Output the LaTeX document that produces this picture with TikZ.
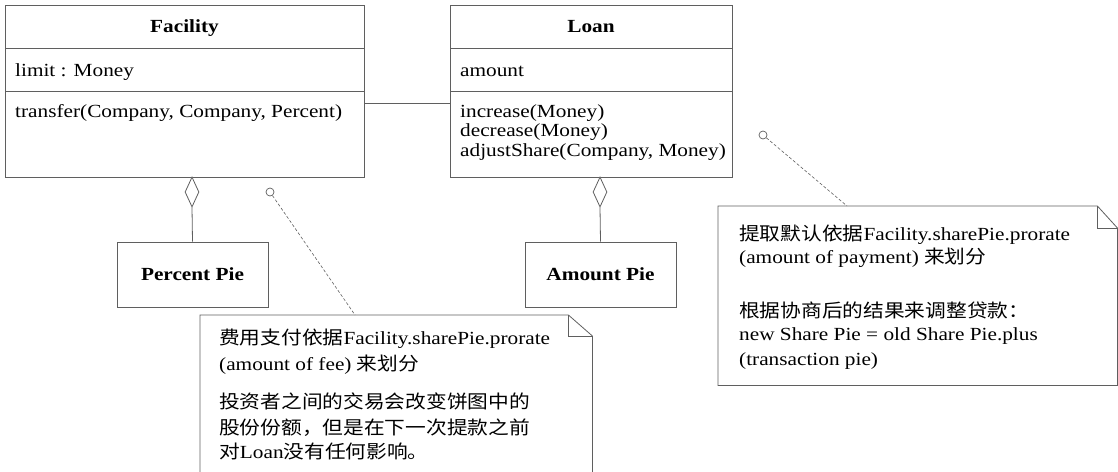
\documentclass[tikz,border=0pt]{standalone}
\usepackage{fontspec}
\setmainfont{Liberation Serif}[FakeStretch=1.15]
\newfontfamily\cjk{Noto Sans CJK SC}[FakeStretch=1.12]
\usetikzlibrary{shapes.geometric}
\definecolor{linec}{RGB}{95,95,95}
\begin{document}
\begin{tikzpicture}[x=1pt,y=-1pt,
  lc/.style={draw=linec, line width=0.8pt},
  box/.style={draw=linec, line width=0.8pt, inner sep=0pt, anchor=north west},
  notebox/.style={draw=none, inner sep=0pt, anchor=north west},
  txt/.style={anchor=base west, inner sep=0pt, font=\fontsize{18.5}{17}\selectfont},
  ttl/.style={anchor=base, inner sep=0pt, font=\fontsize{18.5}{17}\selectfont\bfseries},
  pie/.style={draw=linec, line width=0.8pt, inner sep=0pt, minimum width=151pt, minimum height=65pt, font=\fontsize{18.5}{17}\selectfont\bfseries},
  agg/.style={diamond, draw=linec, line width=0.8pt, fill=white, minimum width=14pt, minimum height=30pt, inner sep=0pt},
  pin/.style={circle, draw=linec, line width=0.7pt, fill=white, minimum size=8pt, inner sep=0pt},
  anchorline/.style={draw=linec, line width=0.6pt, dash pattern=on 3pt off 2pt},
]
\useasboundingbox (0,0) rectangle (1118,471);
\clip (0,0) rectangle (1118,471);

% Facility class
\node[box, minimum width=359pt, minimum height=172pt] (fac) at (5,5) {};
\draw[lc] (fac.west |- 0,48) -- (fac.east |- 0,48);
\draw[lc] (fac.west |- 0,91) -- (fac.east |- 0,91);
\node[ttl] (facT) at (184.5,32) {Facility};
\node[txt] (facA) at (15,76) {limit : Money};
\node[txt] (facM) at (15,117) {transfer(Company, Company, Percent)};

% Loan class
\node[box, minimum width=282pt, minimum height=172pt] (loan) at (450,5) {};
\draw[lc] (loan.west |- 0,48) -- (loan.east |- 0,48);
\draw[lc] (loan.west |- 0,91) -- (loan.east |- 0,91);
\node[ttl] (loanT) at (591,32) {Loan};
\node[txt] (loanA) at (460,76) {amount};
\node[txt] (loanM1) at (460,117) {increase(Money)};
\node[txt] (loanM2) at (460,136.5) {decrease(Money)};
\node[txt] (loanM3) at (460,156) {adjustShare(Company, Money)};

% association
\coordinate (asc) at (0,103);
\draw[lc] (fac.east |- asc) -- (loan.west |- asc);

% aggregations
\node[agg] (d1) at (192,192) {};
\node[agg] (d2) at (600,192) {};
\node[pie] (pp) at (192.5,274.5) {Percent Pie};
\node[pie] (ap) at (600.5,274.5) {Amount Pie};
\draw[lc] (d1.south) -- (pp.north);
\draw[lc] (d2.south) -- (ap.north);

% note 1
\node[notebox, minimum width=392pt, minimum height=175pt] (n1) at (200,315) {};
\draw[lc] (n1.south west) -- (n1.north west) -- ([xshift=-24pt]n1.north east)
  -- ([yshift=-21pt]n1.north east) -- (n1.south east);
\draw[lc] ([xshift=-24pt]n1.north east) -- ([xshift=-24pt,yshift=-21pt]n1.north east)
  -- ([yshift=-21pt]n1.north east);
\node[txt] (n1l1) at (219,344) {{\cjk 费用支付依据}Facility.sharePie.prorate};
\node[txt] (n1l2) at (219,370) {(amount of fee) {\cjk 来划分}};
\node[txt] (n1l3) at (219,408) {\cjk 投资者之间的交易会改变饼图中的};
\node[txt] (n1l4) at (219,434) {\cjk 股份份额，但是在下一次提款之前};
\node[txt] (n1l5) at (219,458) {{\cjk 对}Loan{\cjk 没有任何影响。}};
\node[pin] (p1) at (270,192) {};
\coordinate (n1a) at (355,315);
\draw[anchorline] (p1) -- (n1a);

% note 2
\node[notebox, minimum width=399pt, minimum height=179pt] (n2) at (718,206) {};
\draw[lc] (n2.south west) -- (n2.north west) -- ([xshift=-20pt]n2.north east)
  -- ([yshift=-22pt]n2.north east) -- (n2.south east) -- cycle;
\draw[lc] ([xshift=-20pt]n2.north east) -- ([xshift=-20pt,yshift=-22pt]n2.north east)
  -- ([yshift=-22pt]n2.north east);
\node[txt] (n2l1) at (739,240) {{\cjk 提取默认依据}Facility.sharePie.prorate};
\node[txt] (n2l2) at (739,263) {(amount of payment) {\cjk 来划分}};
\node[txt] (n2l3) at (739,317) {\cjk 根据协商后的结果来调整贷款：};
\node[txt] (n2l4) at (739,340) {new Share Pie = old Share Pie.plus};
\node[txt] (n2l5) at (739,365) {(transaction pie)};
\node[pin] (p2) at (763,135) {};
\coordinate (n2a) at (847,206);
\draw[anchorline] (p2) -- (n2a);
\end{tikzpicture}
\end{document}
